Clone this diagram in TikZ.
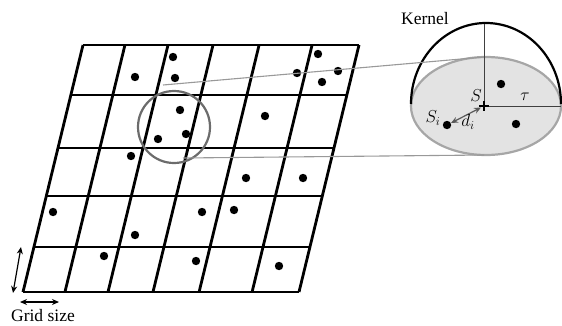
\documentclass[tikz,border=0pt]{standalone}
\usepackage{fontspec}
\setmainfont{Liberation Serif}
\usetikzlibrary{calc,arrows.meta}
\begin{document}
\begin{tikzpicture}[x=1pt,y=-1pt,
  gridline/.style={line width=2.8pt,black},
  pt/.style={fill=black},
  lbl/.style={font=\fontsize{17.5}{20}\selectfont,inner sep=0pt},
  link/.style={gray!80,line width=1.1pt},
  dbl/.style={{Stealth[length=7pt,width=6pt]}-{Stealth[length=7pt,width=6pt]},line width=1.2pt}]
\useasboundingbox (0,0) rectangle (562,325);
% grid corners
\coordinate (TL) at (83,45);
\coordinate (TR) at (359,45);
\coordinate (BL) at (23,292);
\coordinate (BR) at (299,292);
% horizontal lines
\foreach \t in {0,0.2024,0.417,0.611,0.818,1}
  \draw[gridline] ($(TL)!\t!(BL)$) -- ($(TR)!\t!(BR)$);
% vertical lines
\foreach \s in {0,0.152,0.308,0.471,0.638,0.830,1}
  \draw[gridline] ($(TL)!\s!(TR)$) -- ($(BL)!\s!(BR)$);
% points
\foreach \p in {(173,57),(135,77),(175,78),(318,54),(297,73),(338,71),(322,82),
  (180,110),(265,116),(186,134),(158,139),(131,156),(246,178),(303,178),
  (53,212),(202,212),(234,210),(135,235),(104,256),(196,261),(279,266)}
  \fill[pt] \p circle[radius=4.2pt];
% highlight circle
\node[circle,draw=gray!85!black,line width=2.2pt,minimum size=72pt,inner sep=0pt] (circ) at (174,127) {};
% kernel
\coordinate (E) at (486,106);
\coordinate (S) at (484,106);
\fill[gray!22] (E) ellipse[x radius=75pt,y radius=49pt];
\draw[gray!70,line width=2.2pt] (E) ellipse[x radius=75pt,y radius=49pt];
\coordinate (Etop) at (484,57);
\coordinate (Ebot) at (484,155);
\draw[black,line width=2.2pt] (411,104) arc[start angle=180,end angle=0,x radius=75pt,y radius=81pt];
% connectors
\coordinate (c1) at (163,85);
\coordinate (c2) at (183,158);
\draw[link] (c1) -- (Etop);
\draw[link] (c2) -- (Ebot);
% axes inside kernel
\coordinate (D) at (484,24);
\coordinate (R) at (561,106);
\draw[black!75,line width=1pt] (S) -- (D);
\draw[black!75,line width=1pt] (S) -- (R);
% kernel points
\fill[pt] (501,84) circle[radius=4.2pt];
\fill[pt] (516,124) circle[radius=4.2pt];
\coordinate (Si) at (447,125);
\fill[pt] (Si) circle[radius=4.2pt];
\draw[dbl,gray!70!black] ($(Si)+(4,-2)$) -- ($(S)+(-3,1.5)$);
\draw[black,line width=1.8pt] ($(S)+(-5,0)$) -- ($(S)+(5,0)$) ($(S)+(0,-5)$) -- ($(S)+(0,5)$);
% labels
\node[lbl] (kern) at (425,19) {Kernel};
\node[lbl] (sl) at (476,96) {$S$};
\node[lbl] (tl) at (525,97) {$\tau$};
\node[lbl] (sil) at (433,118) {$S_i$};
\node[lbl] (dil) at (468,122) {$d_i$};
% grid size arrows
\coordinate (va) at (21,247);
\coordinate (vb) at (13,293);
\draw[dbl,black] (va) -- (vb);
\coordinate (ha) at (20,302);
\coordinate (hb) at (59,302);
\draw[dbl,black] (ha) -- (hb);
\node[lbl] (gs) at (43,316) {Grid size};
\end{tikzpicture}
\end{document}
